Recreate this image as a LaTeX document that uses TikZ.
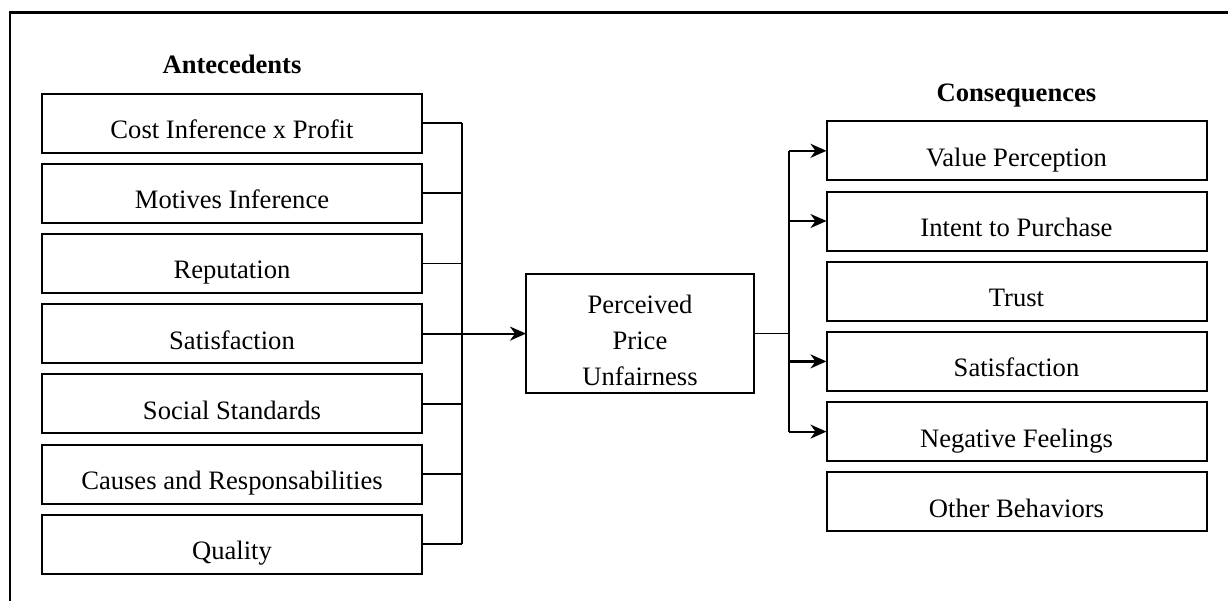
\documentclass[tikz,border=0pt]{standalone}
\usepackage{fontspec}
\setmainfont{Liberation Serif}
\usetikzlibrary{arrows.meta,positioning}

\begin{document}
\begin{tikzpicture}[
    node distance = 5.6pt,
    font=\fontsize{13.3}{18}\selectfont,
    box/.style={rectangle,draw,line width=1pt,minimum width=190pt,minimum height=29.5pt,inner sep=2pt,outer sep=0pt,text height=17.5pt,text depth=2pt},
    mid/.style={rectangle,draw,line width=1pt,minimum width=114pt,minimum height=59.5pt,align=center,outer sep=0pt},
    head/.style={font=\fontsize{13.3}{18}\selectfont\bfseries},
    frame/.style={line width=1.3pt},
    link/.style={line width=0.8pt},
    arrow/.style={-{Stealth[length=8pt,width=7pt,inset=2.5pt]},line width=1.1pt}
]

\useasboundingbox (0,0) rectangle (614pt,-300.5pt);

% Frame
\coordinate (fbottom) at (5pt,-300.5pt);
\coordinate (fcorner) at (5pt,-6.35pt);
\coordinate (fright) at (614pt,-6.35pt);
\draw[frame] (fbottom) -- (fcorner) -- (fright);

% Antecedents
\node[box] (a1) at (116pt,-61.5pt) {Cost Inference x Profit};
\node[box, below=of a1] (a2) {Motives Inference};
\node[box, below=of a2] (a3) {Reputation};
\node[box, below=of a3] (a4) {Satisfaction};
\node[box, below=of a4] (a5) {Social Standards};
\node[box, below=of a5] (a6) {Causes and Responsabilities};
\node[box, below=of a6] (a7) {Quality};
\node[head, above=10pt of a1.north, anchor=base] (antecedents) {Antecedents};

% Perceived price unfairness
\node[mid, right=52pt of a4] (ppu) {\rule{0pt}{16.5pt}Perceived\\Price\\Unfairness};

% Consequences
\node[box] (c1) at (508.25pt,-75.4pt) {Value Perception};
\node[box, below=of c1] (c2) {Intent to Purchase};
\node[box, below=of c2] (c3) {Trust};
\node[box, below=of c3] (c4) {Satisfaction};
\node[box, below=of c4] (c5) {Negative Feelings};
\node[box, below=of c5] (c6) {Other Behaviors};
\node[head, above=10pt of c1.north, anchor=base] (consequences) {Consequences};

% Buses
\coordinate (lbus) at (231pt,0);
\coordinate (rbus) at (394.5pt,0);

% Connections
\draw[link] (a1.east) -- (a1.east -| lbus);
\draw[link] (a2.east) -- (a2.east -| lbus);
\draw[link] (a3.east) -- (a3.east -| lbus);
\draw[link] (a5.east) -- (a5.east -| lbus);
\draw[link] (a6.east) -- (a6.east -| lbus);
\draw[link] (a7.east) -- (a7.east -| lbus);
\draw[link] (a1.east -| lbus) -- (a7.east -| lbus);
\draw[arrow] (a4.east) -- (ppu.west);

\draw[link] (ppu.east) -- (ppu.east -| rbus);
\draw[link] (c1.west -| rbus) -- (c5.west -| rbus);
\draw[arrow] (c1.west -| rbus) -- (c1.west);
\draw[arrow] (c2.west -| rbus) -- (c2.west);
\draw[arrow] (c4.west -| rbus) -- (c4.west);
\draw[arrow] (c5.west -| rbus) -- (c5.west);

\end{tikzpicture}
\end{document}
